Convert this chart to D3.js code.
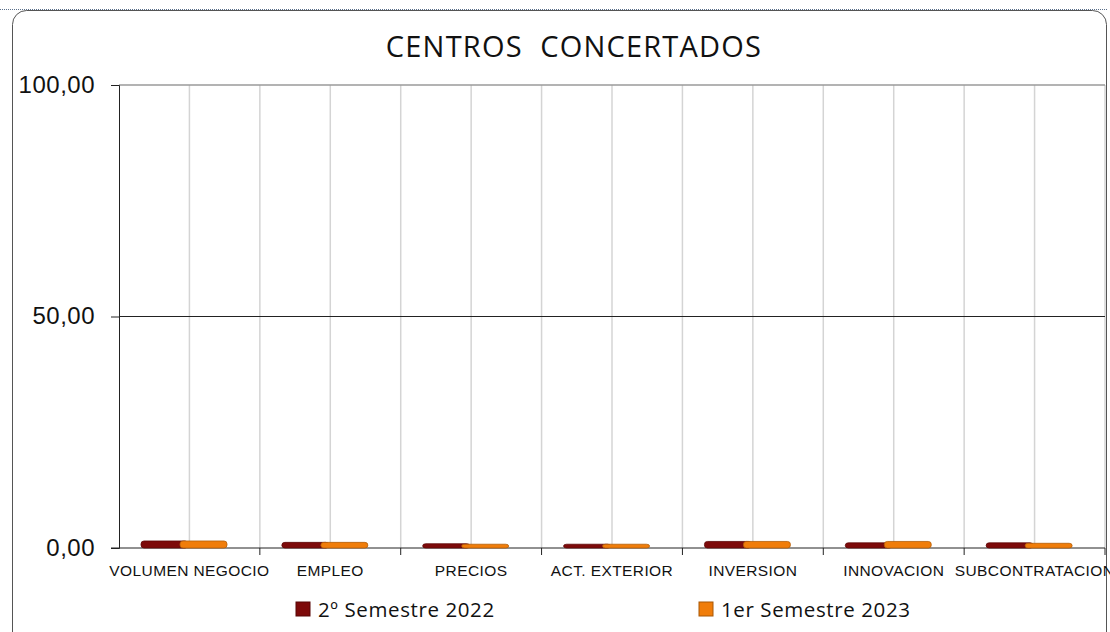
<!DOCTYPE html>
<html>
<head>
<meta charset="utf-8">
<script src="https://cdn.jsdelivr.net/npm/d3@7"></script>
<style>
  body { margin: 0; background: #fff; }
  svg { display: block; font-family: "Open Sans", "Noto Sans", sans-serif; }
</style>
</head>
<body>
<div id="chart"></div>
<script>
// chart data
const categories = ["VOLUMEN NEGOCIO", "EMPLEO", "PRECIOS", "ACT. EXTERIOR", "INVERSION", "INNOVACION", "SUBCONTRATACION"];
const seriesNames = ["2º Semestre 2022", "1er Semestre 2023"];
const values2022 = [1.3, 1.0, 0.7, 0.6, 1.2, 0.9, 0.9];
const values2023 = [1.3, 1.0, 0.6, 0.6, 1.2, 1.2, 0.8];
const yTicks = [0, 50, 100];
const colors = ["#7d0a0a", "#f07d0a"];

const W = 1110, H = 632;
const margin = {top: 85, right: 5, bottom: 84, left: 119};

const svg = d3.select("#chart").append("svg")
    .attr("width", W)
    .attr("height", H);

// outer frame
svg.append("line")
    .attr("x1", 0).attr("x2", 1107).attr("y1", 9.5).attr("y2", 9.5)
    .attr("stroke", "#5a6f8a").attr("stroke-dasharray", "1,1");
svg.append("rect")
    .attr("x", 12.5).attr("y", 10.5)
    .attr("width", 1094).attr("height", 640)
    .attr("rx", 14)
    .attr("fill", "none")
    .attr("stroke", "#555");

const x0 = d3.scaleBand()
    .domain(categories)
    .range([margin.left, W - margin.right]);

const y = d3.scaleLinear()
    .domain([0, 100])
    .range([H - margin.bottom, margin.top]);

// vertical gridlines at category edges and centres
const vLines = [];
categories.forEach(c => {
    vLines.push(x0(c) + x0.bandwidth() / 2);
    vLines.push(x0(c) + x0.bandwidth());
});
svg.append("g").selectAll("line")
    .data(vLines)
    .join("line")
    .attr("x1", d => d).attr("x2", d => d)
    .attr("y1", y(100)).attr("y2", y(0))
    .attr("stroke", "#d4d4d4")
    .attr("stroke-width", 1.5);

// plot area top border
svg.append("line")
    .attr("x1", margin.left).attr("x2", W - margin.right)
    .attr("y1", y(100)).attr("y2", y(100))
    .attr("stroke", "#9a9a9a").attr("stroke-width", 1.5);

// horizontal gridline at 50
svg.append("line")
    .attr("x1", margin.left).attr("x2", W - margin.right)
    .attr("y1", y(50)).attr("y2", y(50))
    .attr("stroke", "#222");

// y axis
const yAxis = svg.append("g")
    .attr("transform", `translate(${margin.left},0)`)
    .call(d3.axisLeft(y).tickValues(yTicks).tickSize(8).tickPadding(16)
        .tickFormat(d => d3.format(".2f")(d).replace(".", ",")));
yAxis.select(".domain").attr("stroke", "#222");
yAxis.selectAll(".tick line").attr("stroke", "#222");
yAxis.selectAll("text")
    .attr("font-size", 24)
    .attr("letter-spacing", 0.5)
    .attr("fill", "#111")
    .attr("dy", "0.3em");

// x axis
const xAxis = svg.append("g")
    .attr("transform", `translate(0,${y(0)})`)
    .call(d3.axisBottom(x0).tickSize(0).tickPadding(17));
xAxis.select(".domain").remove();
svg.append("line")
    .attr("x1", margin.left - 8).attr("x2", W - margin.right)
    .attr("y1", y(0)).attr("y2", y(0))
    .attr("stroke", "#222");
svg.append("g").selectAll("line")
    .data(categories.slice(1).map(c => x0(c)).concat([W - margin.right]))
    .join("line")
    .attr("x1", d => d).attr("x2", d => d)
    .attr("y1", y(0)).attr("y2", y(0) + 7)
    .attr("stroke", "#222");
xAxis.selectAll("text")
    .attr("font-size", 15.5)
    .attr("letter-spacing", 0.4)
    .attr("fill", "#111");

// bars (flat rounded bars, orange drawn over dark red)
const barW = 47;
const offsets = [22, 61];
const seriesData = [values2022, values2023];
seriesData.forEach((vals, s) => {
    svg.append("g").selectAll("rect")
        .data(categories.map((c, i) => ({c, v: vals[i]})))
        .join("rect")
        .attr("x", d => x0(d.c) + offsets[s])
        .attr("y", d => y(d.v) - 1)
        .attr("width", barW)
        .attr("height", d => y(0) - y(d.v) + 1)
        .attr("rx", 3)
        .attr("fill", colors[s])
        .attr("stroke", d3.color(colors[s]).darker(0.8))
        .attr("stroke-width", 0.8);
});

// title
svg.append("text")
    .attr("x", 574).attr("y", 57)
    .attr("text-anchor", "middle")
    .attr("font-size", 29)
    .attr("letter-spacing", 1.2)
    .attr("fill", "#111")
    .attr("xml:space", "preserve")
    .text("CENTROS  CONCERTADOS");

// legend
const legendX = [296, 699];
seriesNames.forEach((name, i) => {
    const g = svg.append("g").attr("transform", `translate(${legendX[i]},602)`);
    g.append("rect")
        .attr("width", 14).attr("height", 14)
        .attr("fill", colors[i])
        .attr("stroke", d3.color(colors[i]).darker(1));
    g.append("text")
        .attr("x", 22).attr("y", 15)
        .attr("font-size", 20.5)
        .attr("letter-spacing", 0.6)
        .attr("fill", "#111")
        .text(name);
});
</script>
</body>
</html>
